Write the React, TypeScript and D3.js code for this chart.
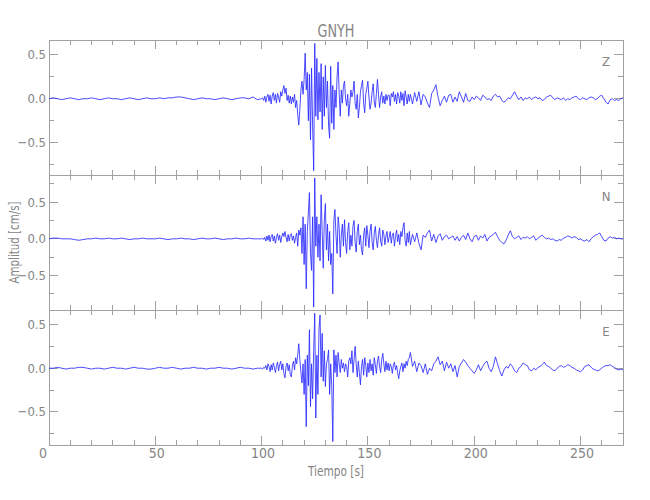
import React from "react";
import * as d3 from "d3";

// ---------- data ----------
const title = "GNYH";
const components = ["Z", "N", "E"];
const xDomain = [0, 270];
const yDomains = [
  [-0.87, 0.67],
  [-0.97, 0.87],
  [-0.88, 0.667],
];
const xMajorTicks = [0, 50, 100, 150, 200, 250];
const yMajorTicks = [-0.5, 0, 0.5];
const yMinorTicks = [-0.75, -0.25, 0.25, 0.75];

// sampling of the three trace segments (seconds)
const preStart = 0, preStep = 2;
const mainStart = 100, mainStep = 0.5;
const codaStart = 170, codaStep = 1;

// ---- Z ----
const zPre = [
  0.00, 0.01, 0.00, -0.01, 0.00, 0.01, 0.00, -0.01, 0.00, 0.00,
  0.01, 0.00, -0.01, 0.00, 0.01, 0.00, 0.00, -0.01, 0.00, 0.01,
  0.00, -0.01, 0.00, 0.01, 0.00, 0.00, 0.01, 0.00, 0.01, 0.01,
  0.02, 0.02, 0.01, 0.00, -0.01, 0.00, 0.01, 0.00, 0.00, -0.01,
  0.00, 0.01, 0.00, -0.01, 0.00, 0.01, 0.01, 0.00, 0.02, -0.01,
];
const zMain = [
  0.00, 0.01, -0.02, 0.03, -0.04, 0.02, 0.05, -0.03, 0.04, -0.06,
  0.03, 0.07, -0.02, 0.05, -0.05, 0.06, 0.02, -0.04, 0.08, 0.03,
  0.10, 0.15, 0.06, 0.12, -0.02, 0.04, -0.05, 0.03, -0.06, 0.02,
  -0.04, 0.05, -0.10, -0.02, -0.18, -0.30, -0.12, 0.10, 0.20, 0.05,
  0.22, 0.52, 0.10, 0.30, -0.25, 0.28, -0.47, 0.35, -0.30, -0.82,
  0.63, -0.20, 0.46, -0.24, 0.30, -0.15, 0.40, -0.35, 0.25, -0.20,
  0.38, -0.10, 0.20, -0.30, -0.45, 0.37, -0.28, 0.15, -0.35, 0.10,
  -0.10, 0.25, 0.42, 0.05, -0.20, 0.10, -0.05, 0.15, 0.20, 0.00,
  -0.08, 0.05, -0.20, -0.05, 0.10, 0.02, 0.08, 0.20, -0.05, -0.12,
  0.05, -0.22, -0.10, 0.08, 0.15, 0.21, -0.05, -0.16, 0.05, 0.12,
  0.20, 0.02, -0.12, -0.05, 0.08, 0.17, -0.04, -0.10, 0.06, 0.22,
  0.05, -0.10, 0.02, 0.08, -0.05, 0.03, -0.06, 0.05, -0.02, 0.04,
  0.04, -0.08, 0.06, 0.02, 0.08, -0.03, 0.05, -0.06, 0.07, 0.03,
  -0.05, 0.08, -0.02, 0.06, -0.08, 0.09, 0.02, -0.06, 0.05, -0.03,
];
const zCoda = [
  0.05, -0.06, 0.07, -0.03, 0.08, -0.07, 0.05, 0.02, -0.05, -0.10,
  0.06, 0.10, 0.16, 0.02, -0.08, -0.02, 0.03, -0.04, 0.04, 0.05,
  -0.04, 0.02, -0.03, 0.08, 0.02, -0.04, 0.06, -0.02, -0.03, 0.02,
  -0.01, 0.03, 0.01, -0.02, 0.04, 0.02, -0.01, 0.00, -0.02, 0.03,
  0.05, 0.02, 0.03, -0.02, -0.04, -0.02, 0.01, 0.00, 0.04, 0.08,
  0.03, -0.01, 0.02, -0.02, 0.01, 0.00, 0.02, -0.01, 0.01, 0.02,
  0.00, 0.01, -0.02, -0.01, 0.02, 0.03, 0.04, 0.01, -0.01, 0.01,
  0.00, -0.01, 0.01, -0.02, 0.00, -0.01, 0.01, 0.02, 0.03, 0.00,
  -0.01, 0.01, 0.00, -0.01, 0.01, 0.02, 0.01, -0.01, 0.00, 0.03,
  0.04, 0.00, -0.04, -0.06, -0.01, 0.00, -0.02, -0.01, -0.02, 0.00,
  0.01,
];

// ---- N ----
const nPre = [
  0.00, 0.01, 0.01, 0.00, 0.00, 0.00, -0.01, -0.02, -0.01, 0.00,
  0.00, 0.01, 0.00, 0.00, 0.01, 0.00, 0.00, 0.01, 0.00, -0.01,
  0.00, 0.00, 0.01, 0.00, 0.00, 0.00, 0.01, 0.00, -0.01, 0.00,
  0.00, 0.01, 0.00, 0.00, -0.01, 0.00, 0.01, 0.00, 0.00, 0.01,
  0.00, -0.01, 0.00, 0.00, 0.01, 0.00, 0.00, 0.01, 0.00, 0.00,
];
const nMain = [
  0.00, 0.01, -0.01, 0.02, -0.03, 0.04, -0.02, 0.05, -0.04, 0.03,
  0.06, -0.03, 0.04, -0.06, 0.02, 0.07, -0.02, 0.05, -0.05, 0.03,
  0.08, 0.03, 0.10, 0.02, -0.04, 0.06, -0.03, 0.05, 0.07, -0.02,
  0.04, -0.06, 0.02, 0.08, -0.10, 0.12, 0.05, 0.15, -0.20, 0.30,
  -0.35, 0.20, -0.68, 0.10, 0.35, 0.63, -0.20, -0.43, 0.30, -0.93,
  0.83, -0.10, 0.30, -0.25, 0.20, -0.30, 0.60, 0.10, -0.40, 0.25,
  0.48, -0.15, 0.20, -0.30, 0.10, -0.35, -0.20, -0.75, 0.25, 0.40,
  0.05, -0.20, 0.30, 0.15, -0.25, 0.05, 0.20, -0.10, 0.26, -0.05,
  -0.20, 0.10, 0.22, -0.15, 0.05, -0.10, 0.18, 0.25, -0.05, -0.18,
  0.10, 0.20, -0.08, 0.05, -0.15, -0.22, 0.05, 0.15, -0.10, 0.18,
  0.05, -0.12, 0.10, 0.20, -0.05, -0.15, 0.08, 0.17, -0.02, -0.12,
  0.05, 0.15, -0.03, -0.10, 0.12, 0.06, -0.08, 0.04, 0.10, -0.05,
  0.02, 0.10, -0.06, 0.05, 0.08, -0.10, 0.03, 0.12, -0.04, 0.06,
  -0.08, 0.10, 0.03, 0.15, 0.22, -0.02, -0.10, 0.08, -0.05, 0.10,
];
const nCoda = [
  -0.08, 0.06, -0.04, 0.08, -0.06, -0.15, 0.05, 0.02, 0.08, 0.12,
  -0.03, 0.06, -0.05, 0.04, 0.07, -0.02, 0.03, 0.05, 0.00, 0.02,
  0.04, -0.02, 0.03, -0.03, 0.02, 0.05, -0.01, 0.08, 0.00, -0.04,
  0.03, 0.05, -0.02, 0.04, 0.01, 0.06, -0.03, 0.02, 0.04, 0.06,
  0.09, 0.03, -0.02, -0.05, -0.07, -0.02, 0.05, 0.11, 0.03, 0.00,
  0.02, 0.04, -0.01, 0.02, 0.01, 0.03, 0.00, 0.02, 0.04, -0.02,
  0.01, 0.03, 0.05, 0.02, 0.00, 0.01, -0.01, 0.00, -0.02, -0.03,
  -0.01, -0.02, 0.01, 0.02, 0.04, 0.03, 0.01, 0.03, 0.02, -0.01,
  0.00, -0.02, -0.03, -0.01, -0.04, 0.00, 0.03, 0.05, 0.06, 0.08,
  0.03, -0.02, -0.03, 0.01, 0.03, 0.01, 0.02, 0.00, 0.01, 0.00,
  0.00,
];

// ---- E ----
const ePre = [
  0.00, 0.00, 0.01, 0.00, -0.01, 0.00, 0.00, 0.01, 0.01, 0.00,
  -0.01, 0.00, 0.00, -0.01, 0.00, 0.01, 0.00, 0.00, -0.01, 0.00,
  0.01, 0.00, 0.00, -0.01, -0.01, 0.00, 0.01, 0.00, 0.00, 0.01,
  0.00, -0.01, 0.00, 0.00, 0.01, 0.00, 0.00, -0.01, 0.00, 0.00,
  0.01, 0.00, 0.00, -0.01, 0.00, 0.01, 0.00, 0.00, -0.01, 0.00,
];
const eMain = [
  0.00, -0.01, 0.01, 0.00, 0.03, -0.02, 0.05, 0.02, -0.04, 0.04,
  -0.02, 0.06, 0.01, -0.05, 0.03, 0.07, -0.03, 0.04, 0.08, -0.02,
  0.05, -0.06, -0.11, 0.02, 0.06, -0.03, 0.04, -0.08, -0.10, 0.03,
  0.08, -0.02, 0.12, 0.05, 0.15, 0.28, 0.10, -0.05, -0.17, 0.05,
  -0.30, 0.10, -0.67, 0.15, -0.20, 0.44, -0.44, 0.05, -0.35, 0.20,
  0.63, -0.57, 0.15, -0.30, 0.45, 0.61, -0.10, 0.40, -0.15, 0.20,
  -0.21, 0.05, 0.10, 0.21, -0.30, 0.05, -0.20, -0.84, 0.21, -0.05,
  0.15, -0.10, 0.18, 0.05, -0.05, 0.10, 0.00, 0.06, -0.04, 0.05,
  0.02, -0.10, 0.08, 0.12, 0.05, 0.20, -0.05, 0.10, 0.25, 0.05,
  -0.10, 0.08, -0.05, -0.19, 0.02, 0.10, -0.08, 0.12, 0.03, -0.10,
  0.06, -0.05, 0.10, -0.03, 0.05, -0.08, 0.12, 0.04, -0.06, 0.08,
  0.14, 0.02, -0.05, 0.10, 0.17, 0.05, -0.04, 0.08, -0.02, 0.06,
  -0.03, 0.05, 0.02, -0.06, 0.04, 0.07, -0.02, 0.03, -0.05, -0.12,
  -0.03, 0.02, 0.06, -0.04, 0.05, 0.00, 0.08, 0.03, 0.10, 0.12,
];
const eCoda = [
  0.18, 0.02, 0.08, -0.04, 0.06, 0.03, -0.05, 0.05, -0.07, 0.00,
  -0.03, 0.05, 0.08, 0.13, 0.04, 0.08, -0.03, 0.07, 0.00, 0.05,
  -0.04, 0.03, -0.10, 0.02, 0.06, 0.10, 0.07, 0.03, 0.00, -0.03,
  -0.06, -0.02, 0.04, -0.03, 0.02, 0.06, 0.08, 0.00, -0.04, 0.02,
  0.13, 0.05, -0.03, -0.09, -0.02, 0.02, 0.00, 0.05, 0.02, -0.03,
  -0.05, 0.00, 0.02, 0.06, 0.04, 0.03, -0.02, -0.03, 0.00, -0.02,
  0.01, 0.02, 0.04, 0.07, 0.03, 0.02, 0.00, -0.02, -0.03, 0.00,
  0.02, 0.03, 0.01, 0.02, 0.04, 0.03, 0.01, 0.00, -0.02, -0.03,
  -0.04, -0.02, 0.02, 0.03, 0.04, 0.01, -0.01, -0.02, -0.03, -0.02,
  0.00, 0.02, 0.03, 0.03, 0.04, 0.02, 0.01, -0.01, -0.02, -0.01,
  -0.02,
];

const traces = [
  [zPre, zMain, zCoda],
  [nPre, nMain, nCoda],
  [ePre, eMain, eCoda],
];

// ---------- layout ----------
const W = 650, H = 500;
const left = 49, right = 623;
const top0 = 40, panelH = 135;
const axisColor = "#a0a0a0";
const textColor = "#858585";
const traceColor = "#2a2aff";
const font = "'Liberation Sans Narrow', 'DejaVu Sans', sans-serif";

function toPoints(segs: number[][]): [number, number][] {
  const [pre, main, coda] = segs;
  const pts: [number, number][] = [];
  pre.forEach((v, i) => pts.push([preStart + i * preStep, v]));
  main.forEach((v, i) => pts.push([mainStart + i * mainStep, v]));
  coda.forEach((v, i) => pts.push([codaStart + i * codaStep, v]));
  return pts;
}

export default function App() {
  const x = d3.scaleLinear().domain(xDomain).range([left, right]);
  const xMinor = d3.range(0, 271, 10).filter((t) => t % 50 !== 0);
  const fmt = d3.format(".1f");
  const bottom = top0 + panelH * 3;

  return (
    <svg
      width={W}
      height={H}
      style={{ position: "absolute", left: 0, top: 0, background: "#fff", fontStretch: "condensed" }}
      fontFamily={font}
    >
      <rect x={0} y={0} width={W} height={H} fill="#fff" />
      <text x={(left + right) / 2} y={37} textAnchor="middle" fontSize={18} fill={textColor}
        textLength={37} lengthAdjust="spacingAndGlyphs">
        {title}
      </text>
      {components.map((comp, i) => {
        const y0 = top0 + i * panelH;
        const y1 = y0 + panelH;
        const y = d3.scaleLinear().domain(yDomains[i]).range([y1, y0]);
        const line = d3
          .line<[number, number]>()
          .x((d) => x(d[0]))
          .y((d) => y(d[1]));
        const pts = toPoints(traces[i]);
        const [dmin, dmax] = yDomains[i];
        const minors = yMinorTicks.filter((t) => t > dmin && t < dmax);
        return (
          <g key={comp}>
            <rect x={left} y={y0} width={right - left} height={panelH} fill="none" stroke={axisColor} strokeWidth={1} shapeRendering="crispEdges" />
            {xMajorTicks.map((t) => (
              <g key={"xm" + t} stroke={axisColor} shapeRendering="crispEdges">
                <line x1={x(t)} x2={x(t)} y1={y0} y2={y0 + 9} />
                <line x1={x(t)} x2={x(t)} y1={y1} y2={y1 - 9} />
              </g>
            ))}
            {xMinor.map((t) => (
              <g key={"xn" + t} stroke={axisColor} shapeRendering="crispEdges">
                <line x1={x(t)} x2={x(t)} y1={y0} y2={y0 + 5} />
                <line x1={x(t)} x2={x(t)} y1={y1} y2={y1 - 5} />
              </g>
            ))}
            {yMajorTicks.map((t) => (
              <g key={"ym" + t}>
                <g stroke={axisColor} shapeRendering="crispEdges">
                  <line x1={left} x2={left + 9} y1={y(t)} y2={y(t)} />
                  <line x1={right} x2={right - 9} y1={y(t)} y2={y(t)} />
                </g>
                <text x={left - 3} y={y(t) + 4.5} textAnchor="end" fontSize={13} fill={textColor}>
                  {fmt(t)}
                </text>
              </g>
            ))}
            {minors.map((t) => (
              <g key={"yn" + t} stroke={axisColor} shapeRendering="crispEdges">
                <line x1={left} x2={left + 5} y1={y(t)} y2={y(t)} />
                <line x1={right} x2={right - 5} y1={y(t)} y2={y(t)} />
              </g>
            ))}
            <path d={line(pts) || ""} fill="none" stroke={traceColor} strokeWidth={0.85} strokeLinejoin="round" />
            <text x={606} y={y0 + 26} textAnchor="middle" fontSize={13} fill={textColor}>
              {comp}
            </text>
          </g>
        );
      })}
      {xMajorTicks.map((t, i) => (
        <text key={"xl" + t} x={x(t) + (i === 0 ? -6 : 1.5)} y={458} textAnchor="middle" fontSize={14} fill={textColor}>
          {String(t)}
        </text>
      ))}
      <text x={(left + right) / 2} y={476} textAnchor="middle" fontSize={14} fill={textColor}
        textLength={56} lengthAdjust="spacingAndGlyphs">
        Tiempo [s]
      </text>
      <text
        transform={`translate(19, ${(top0 + bottom) / 2}) rotate(-90)`}
        textAnchor="middle"
        fontSize={14}
        fill={textColor}
        textLength={82}
        lengthAdjust="spacingAndGlyphs"
      >
        Amplitud [cm/s]
      </text>
    </svg>
  );
}
